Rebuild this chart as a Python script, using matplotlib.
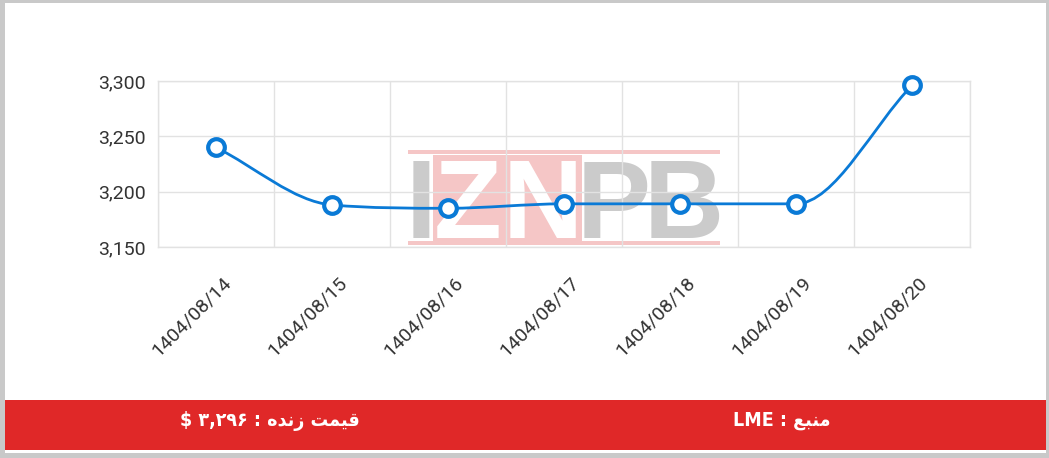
import numpy as np
import matplotlib
matplotlib.use("Agg")
import matplotlib.pyplot as plt
from matplotlib.path import Path
import matplotlib.patches as patches
from matplotlib.transforms import ScaledTranslation

W, H = 1049, 458

dates = ["1404/08/14", "1404/08/15", "1404/08/16", "1404/08/17",
         "1404/08/18", "1404/08/19", "1404/08/20"]
prices = [3240, 3188, 3185, 3189, 3189, 3189, 3296]
yticks = [3150, 3200, 3250, 3300]

# footer text, already in visual order (matplotlib does no arabic shaping)
source_text = "LME : \uFECA\uFE92\uFEE8\uFEE3"
price_text = "$ \u06F3,\u06F2\u06F9\u06F6 : \uFEE9\uFEAA\uFEE7\uFEAF \uFE96\uFEE4\uFEF4\uFED7"

line_col = "#0a7ad6"
grid_col = "#e2e2e2"
red = "#e02828"


def px(x, y):
    return x / W, 1 - y / H


def monotone_path(xs, ys):
    # same idea as chart.js cubicInterpolationMode 'monotone'
    n = len(xs)
    dk = np.diff(ys) / np.diff(xs)
    mk = np.zeros(n)
    mk[0] = dk[0]
    mk[-1] = dk[-1]
    for i in range(1, n - 1):
        if np.sign(dk[i - 1]) != np.sign(dk[i]):
            mk[i] = 0
        else:
            mk[i] = (dk[i - 1] + dk[i]) / 2
    for i in range(n - 1):
        if abs(dk[i]) < 1e-9:
            mk[i] = mk[i + 1] = 0
            continue
        a = mk[i] / dk[i]
        b = mk[i + 1] / dk[i]
        sq = a * a + b * b
        if sq > 9:
            tau = 3 / np.sqrt(sq)
            mk[i] = a * tau * dk[i]
            mk[i + 1] = b * tau * dk[i]
    verts = [(xs[0], ys[0])]
    codes = [Path.MOVETO]
    for i in range(n - 1):
        d = (xs[i + 1] - xs[i]) / 3
        verts += [(xs[i] + d, ys[i] + d * mk[i]),
                  (xs[i + 1] - d, ys[i + 1] - d * mk[i + 1]),
                  (xs[i + 1], ys[i + 1])]
        codes += [Path.CURVE4] * 3
    return Path(verts, codes)


fig = plt.figure(figsize=(W / 100, H / 100), dpi=100)
fig.patch.set_facecolor("#c9c9c9")

# white card inside the gray border
bg = patches.Rectangle(px(5, 453), (W - 8) / W, 450 / H, transform=fig.transFigure,
                       facecolor="white", edgecolor="none", zorder=-10)
fig.patches.append(bg)
band = patches.Rectangle(px(5, 450), (W - 8) / W, 50 / H, transform=fig.transFigure,
                         facecolor=red, edgecolor="none", zorder=-9)
fig.patches.append(band)

x0, y0 = px(158, 247)
x1, y1 = px(970, 81)
ax = fig.add_axes([x0, y0, x1 - x0, y1 - y0])
ax.set_xlim(-0.5, len(dates) - 0.5)
ax.set_ylim(3150, 3300)
ax.set_facecolor("none")

for s in ax.spines.values():
    s.set_color(grid_col)
    s.set_linewidth(1)

ax.set_yticks(yticks)
ax.set_yticklabels(["{:,}".format(v) for v in yticks])
ax.set_xticks(range(len(dates)))
ax.set_xticklabels(dates)
ax.set_xticks(np.arange(-0.5, len(dates)), minor=True)
ax.grid(True, axis="y", color=grid_col, lw=1)
ax.grid(True, axis="x", which="minor", color=grid_col, lw=1)
ax.tick_params(axis="both", which="both", length=0)
ax.tick_params(axis="y", pad=9, labelsize=14, labelcolor="#333333")
ax.tick_params(axis="x", pad=0, labelsize=14, labelcolor="#333333")
for lab in ax.yaxis.get_ticklabels():
    lab.set_fontfamily("Roboto")
off = ScaledTranslation(0.12, -0.325, fig.dpi_scale_trans)
for lab in ax.xaxis.get_ticklabels():
    lab.set_fontfamily("Roboto")
    lab.set_rotation(45)
    lab.set_rotation_mode("anchor")
    lab.set_ha("right")
    lab.set_va("center")
    lab.set_transform(lab.get_transform() + off)

# watermark logo
pink = "#f5c6c6"
wm_gray = "#cbcbcb"
for rx, ry, rw, rh in [(408, 150, 312, 4), (408, 241, 312, 4), (433, 155, 149, 86)]:
    ax.add_patch(patches.Rectangle(px(rx, ry + rh), rw / W, rh / H, transform=fig.transFigure,
                                   facecolor=pink, edgecolor="none", zorder=0.1))
for ch, cx, col in [("I", 421, wm_gray), ("Z", 468, "white"), ("N", 543, "white"),
                    ("P", 614, wm_gray), ("B", 684, wm_gray)]:
    ax.text(*px(cx, 238), ch, transform=fig.transFigure, ha="center", va="baseline",
            fontsize=80, fontweight="bold", family="Liberation Sans", color=col, zorder=0.2)

xs = np.arange(len(prices), dtype=float)
ys = np.array(prices, dtype=float)
curve = patches.PathPatch(monotone_path(xs, ys), facecolor="none", edgecolor=line_col,
                          lw=2, zorder=3)
ax.add_patch(curve)
ax.plot(xs, ys, "o", ms=12, mfc="white", mec=line_col, mew=3, zorder=4, clip_on=False)

# footer
fig.text(*px(782, 421), source_text, ha="center", va="center", color="white",
         fontsize=14, fontweight="bold", family="DejaVu Sans", fontstretch="condensed")
fig.text(*px(270, 421), price_text, ha="center", va="center", color="white",
         fontsize=14, fontweight="bold", family="DejaVu Sans", fontstretch="condensed")

fig.savefig("out.png", dpi=100, facecolor=fig.get_facecolor())
